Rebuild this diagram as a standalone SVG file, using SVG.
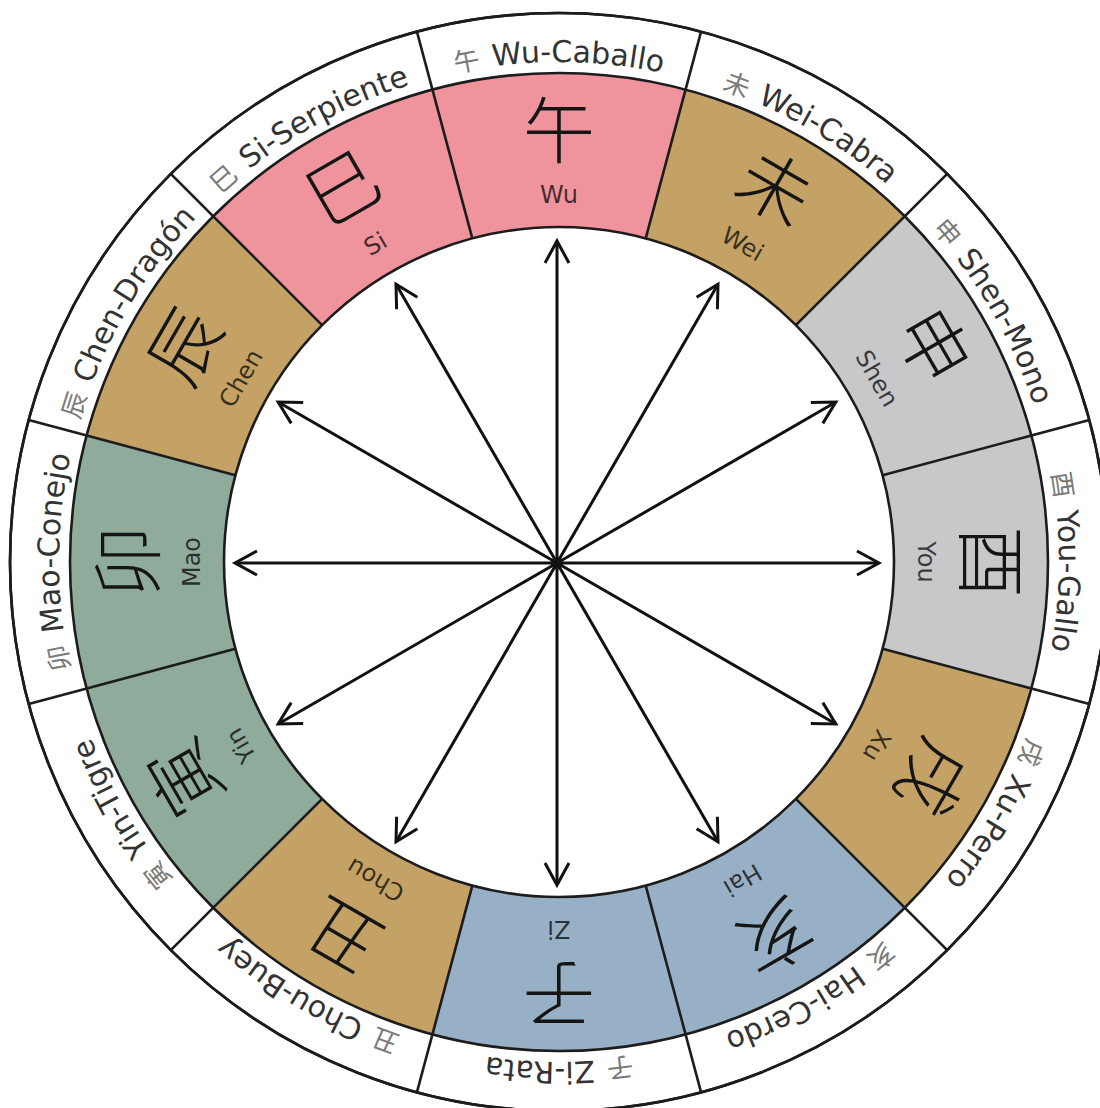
<svg xmlns="http://www.w3.org/2000/svg" width="1100" height="1108" viewBox="0 0 1100 1108">
<style>
.ring{fill:none;stroke:#1c1c1c;stroke-width:2.6}
.dv{stroke:#1c1c1c;stroke-width:2.6}
.big{font-family:"Noto Sans CJK SC","Noto Sans CJK TC",sans-serif;font-size:72px;font-weight:300;fill:#151515;text-anchor:middle;dominant-baseline:central}
.py{font-family:"DejaVu Sans",sans-serif;font-size:24px;fill:#000;fill-opacity:.72;text-anchor:middle;dominant-baseline:central}
.ol{font-family:"DejaVu Sans",sans-serif;font-size:30px;fill:#333;text-anchor:middle}
.oc{font-family:"Noto Sans CJK SC",sans-serif;font-size:26px;fill:#7a7a7a}
.arr{stroke:#111;stroke-width:3;fill:none;marker-end:url(#ah)}
</style>
<defs>
<path id="wedge" d="M-126.56,-472.34 A489,489 0 0,1 126.56,-472.34 L86.70,-323.59 A335,335 0 0,0 -86.70,-323.59 Z"/>
<path id="lp" d="M-500,0 A500,500 0 0,1 500,0"/>
<marker id="ah" viewBox="0 0 30 30" refX="26" refY="15" markerWidth="30" markerHeight="30" markerUnits="userSpaceOnUse" orient="auto">
<path d="M4,3 L26,15 L4,27" fill="none" stroke="#111" stroke-width="3"/>
</marker>
</defs>
<rect width="1100" height="1108" fill="#fff"/>
<circle cx="559" cy="562" r="549" class="ring" style="fill:#fff"/>

<g id="node-wu" transform="translate(559 562) rotate(0)">
<use href="#wedge" fill="#EF949D"/>
<text class="big" y="-437">午</text>
<text class="py" y="-367">Wu</text>
<text class="ol"><textPath href="#lp" startOffset="50%"><tspan class="oc">午</tspan><tspan dx="12">Wu-Caballo</tspan></textPath></text>
</g>
<g id="node-wei" transform="translate(559 562) rotate(30)">
<use href="#wedge" fill="#C4A265"/>
<text class="big" y="-437">未</text>
<text class="py" y="-367">Wei</text>
<text class="ol"><textPath href="#lp" startOffset="50%"><tspan class="oc">未</tspan><tspan dx="12">Wei-Cabra</tspan></textPath></text>
</g>
<g id="node-shen" transform="translate(559 562) rotate(60)">
<use href="#wedge" fill="#C8C8CA"/>
<text class="big" y="-437">申</text>
<text class="py" y="-367">Shen</text>
<text class="ol"><textPath href="#lp" startOffset="50%"><tspan class="oc">申</tspan><tspan dx="12">Shen-Mono</tspan></textPath></text>
</g>
<g id="node-you" transform="translate(559 562) rotate(90)">
<use href="#wedge" fill="#C8C8CA"/>
<text class="big" y="-437">酉</text>
<text class="py" y="-367">You</text>
<text class="ol"><textPath href="#lp" startOffset="50%"><tspan class="oc">酉</tspan><tspan dx="12">You-Gallo</tspan></textPath></text>
</g>
<g id="node-xu" transform="translate(559 562) rotate(120)">
<use href="#wedge" fill="#C4A265"/>
<text class="big" y="-437">戌</text>
<text class="py" y="-367">Xu</text>
<text class="ol"><textPath href="#lp" startOffset="50%"><tspan class="oc">戌</tspan><tspan dx="12">Xu-Perro</tspan></textPath></text>
</g>
<g id="node-hai" transform="translate(559 562) rotate(150)">
<use href="#wedge" fill="#98B0C5"/>
<text class="big" y="-437">亥</text>
<text class="py" y="-367">Hai</text>
<text class="ol"><textPath href="#lp" startOffset="50%"><tspan class="oc">亥</tspan><tspan dx="12">Hai-Cerdo</tspan></textPath></text>
</g>
<g id="node-zi" transform="translate(559 562) rotate(180)">
<use href="#wedge" fill="#98B0C5"/>
<text class="big" y="-437">子</text>
<text class="py" y="-367">Zi</text>
<text class="ol"><textPath href="#lp" startOffset="50%"><tspan class="oc">子</tspan><tspan dx="12">Zi-Rata</tspan></textPath></text>
</g>
<g id="node-chou" transform="translate(559 562) rotate(210)">
<use href="#wedge" fill="#C4A265"/>
<text class="big" y="-437">丑</text>
<text class="py" y="-367">Chou</text>
<text class="ol"><textPath href="#lp" startOffset="50%"><tspan class="oc">丑</tspan><tspan dx="12">Chou-Buey</tspan></textPath></text>
</g>
<g id="node-yin" transform="translate(559 562) rotate(240)">
<use href="#wedge" fill="#8FAB9C"/>
<text class="big" y="-437">寅</text>
<text class="py" y="-367">Yin</text>
<text class="ol"><textPath href="#lp" startOffset="50%"><tspan class="oc">寅</tspan><tspan dx="12">Yin-Tigre</tspan></textPath></text>
</g>
<g id="node-mao" transform="translate(559 562) rotate(270)">
<use href="#wedge" fill="#8FAB9C"/>
<text class="big" y="-437">卯</text>
<text class="py" y="-367">Mao</text>
<text class="ol"><textPath href="#lp" startOffset="50%"><tspan class="oc">卯</tspan><tspan dx="12">Mao-Conejo</tspan></textPath></text>
</g>
<g id="node-chen" transform="translate(559 562) rotate(300)">
<use href="#wedge" fill="#C4A265"/>
<text class="big" y="-437">辰</text>
<text class="py" y="-367">Chen</text>
<text class="ol"><textPath href="#lp" startOffset="50%"><tspan class="oc">辰</tspan><tspan dx="12">Chen-Dragón</tspan></textPath></text>
</g>
<g id="node-si" transform="translate(559 562) rotate(330)">
<use href="#wedge" fill="#EF949D"/>
<text class="big" y="-437">巳</text>
<text class="py" y="-367">Si</text>
<text class="ol"><textPath href="#lp" startOffset="50%"><tspan class="oc">巳</tspan><tspan dx="12">Si-Serpiente</tspan></textPath></text>
</g>

<g id="rings">
<circle cx="559" cy="562" r="489" class="ring"/>
<circle cx="559" cy="562" r="335" class="ring"/>
<circle cx="559" cy="562" r="549" class="ring"/>
</g>
<g id="dividers">
<line class="dv" x1="472.30" y1="238.41" x2="416.91" y2="31.71"/>
<line class="dv" x1="645.70" y1="238.41" x2="701.09" y2="31.71"/>
<line class="dv" x1="795.88" y1="325.12" x2="947.20" y2="173.80"/>
<line class="dv" x1="882.59" y1="475.30" x2="1089.29" y2="419.91"/>
<line class="dv" x1="882.59" y1="648.70" x2="1089.29" y2="704.09"/>
<line class="dv" x1="795.88" y1="798.88" x2="947.20" y2="950.20"/>
<line class="dv" x1="645.70" y1="885.59" x2="701.09" y2="1092.29"/>
<line class="dv" x1="472.30" y1="885.59" x2="416.91" y2="1092.29"/>
<line class="dv" x1="322.12" y1="798.88" x2="170.80" y2="950.20"/>
<line class="dv" x1="235.41" y1="648.70" x2="28.71" y2="704.09"/>
<line class="dv" x1="235.41" y1="475.30" x2="28.71" y2="419.91"/>
<line class="dv" x1="322.12" y1="325.12" x2="170.80" y2="173.80"/>
</g>

<g id="connectors">
<line class="arr" x1="557" y1="563" x2="879" y2="563"/>
<line class="arr" x1="557" y1="563" x2="835.86" y2="724"/>
<line class="arr" x1="557" y1="563" x2="718" y2="841.86"/>
<line class="arr" x1="557" y1="563" x2="557" y2="885"/>
<line class="arr" x1="557" y1="563" x2="396" y2="841.86"/>
<line class="arr" x1="557" y1="563" x2="278.14" y2="724"/>
<line class="arr" x1="557" y1="563" x2="235" y2="563"/>
<line class="arr" x1="557" y1="563" x2="278.14" y2="402"/>
<line class="arr" x1="557" y1="563" x2="396" y2="284.14"/>
<line class="arr" x1="557" y1="563" x2="557" y2="241"/>
<line class="arr" x1="557" y1="563" x2="718" y2="284.14"/>
<line class="arr" x1="557" y1="563" x2="835.86" y2="402"/>
<circle cx="557" cy="563" r="6" fill="#111"/>
</g>
</svg>
